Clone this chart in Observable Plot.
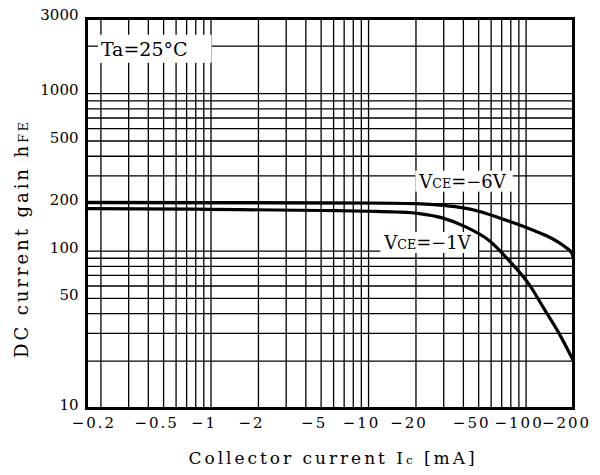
<!DOCTYPE html>
<html>
<head>
<meta charset="utf-8">
<script src="https://cdn.jsdelivr.net/npm/d3@7"></script>
<script src="https://cdn.jsdelivr.net/npm/@observablehq/plot@0.6"></script>
<style>
  html, body { margin: 0; padding: 0; background: #fff; }
  svg { display: block; }
</style>
</head>
<body>
<div id="chart"></div>
<script>
// ---- data ----
const xTicks = [0.2, 0.5, 1, 2, 5, 10, 20, 50, 100, 200];
const yTicks = [10, 50, 100, 200, 500, 1000, 3000];
const xGrid = [0.2, 0.3, 0.4, 0.5, 0.6, 0.7, 0.8, 0.9,
               1, 2, 3, 4, 5, 6, 7, 8, 9,
               10, 20, 30, 40, 50, 60, 70, 80, 90, 100];
const yGrid = [20, 30, 40, 50, 60, 70, 80, 90,
               100, 200, 300, 400, 500, 600, 700, 800, 900,
               1000, 2000];
const xDomain = [0.162, 200];
const yDomain = [10, 3000];

// VCE = -6V
const icVce6  = [0.162, 1, 10, 20, 30, 40, 50, 67, 85, 110, 135, 160, 180, 195, 200];
const hfeVce6 = [204, 203, 202, 200, 195, 188, 179, 163, 150, 136, 125, 114, 105, 97, 90];
// VCE = -1V
const icVce1  = [0.162, 1, 5, 10, 15, 21, 29, 41, 58, 78, 105, 132, 162, 200];
const hfeVce1 = [186, 184, 181, 179, 177, 173, 163, 143, 117, 87, 61, 42, 30, 20];

const annoText = ["Ta=25°C", "VCE=−6V", "VCE=−1V"];
const annoX = [0.2, 21, 12.6];
const annoY = [1900, 275, 112];

const xTitle = "Collector current Ic [mA]";
const yTitle = "DC current gain hFE";

// ---- build tables ----
const curve6 = icVce6.map((x, i) => ({ic: x, hfe: hfeVce6[i]}));
const curve1 = icVce1.map((x, i) => ({ic: x, hfe: hfeVce1[i]}));
const annos = annoText.map((t, i) => ({text: t, x: annoX[i], y: annoY[i]}));

const FONT = "DejaVu Serif";

const svg = Plot.plot({
  width: 600,
  height: 475,
  marginLeft: 86,
  marginRight: 27,
  marginTop: 18,
  marginBottom: 67,
  style: {fontFamily: FONT, fontSize: "15px", color: "#000", background: "#fff"},
  x: {type: "log", domain: xDomain, axis: null},
  y: {type: "log", domain: yDomain, axis: null},
  marks: [
    Plot.ruleX(xGrid, {stroke: "#000", strokeWidth: 1.3}),
    Plot.ruleY(yGrid, {stroke: "#000", strokeWidth: 1.3}),
    Plot.text(annos, {x: "x", y: "y", text: "text", textAnchor: "start",
                      fontSize: 18, fontFamily: FONT, fill: "#000"}),
    Plot.line(curve6, {x: "ic", y: "hfe", stroke: "#000", strokeWidth: 3.2, curve: "monotone-x"}),
    Plot.line(curve1, {x: "ic", y: "hfe", stroke: "#000", strokeWidth: 3.2, curve: "monotone-x"}),
    Plot.frame({stroke: "#000", strokeWidth: 3}),
    // tick labels
    Plot.text(xTicks, {x: d => d, text: d => "−" + d, frameAnchor: "bottom", lineAnchor: "top",
                       dy: 9, dx: -7, fontSize: 15, fontFamily: FONT, fill: "#000"}),
    Plot.text(yTicks, {y: d => d, text: d => String(d), frameAnchor: "left", textAnchor: "end",
                       dx: -8, dy: -3, fontSize: 15, fontFamily: FONT, fill: "#000"}),
    // axis titles
    Plot.text([xTitle], {frameAnchor: "bottom", textAnchor: "middle", dy: 55, dx: 3,
                         fontSize: 17, fontFamily: FONT}),
    Plot.text([yTitle], {frameAnchor: "left", textAnchor: "middle", rotate: -90, dx: -64, dy: 25,
                         fontSize: 18, fontFamily: FONT})
  ]
});

document.getElementById("chart").append(svg);

// ---- text refinements: small subscripts, spacing, label backgrounds ----
const ns = "http://www.w3.org/2000/svg";
function rich(el, parts) {
  el.textContent = "";
  for (const [t, small] of parts) {
    const ts = document.createElementNS(ns, "tspan");
    ts.textContent = t;
    if (small) ts.setAttribute("font-size", "0.7em");
    el.appendChild(ts);
  }
}
function fitWidth(el, target) {
  const n = el.getNumberOfChars();
  const w = el.getComputedTextLength();
  el.style.letterSpacing = ((target - w) / n) + "px";
}
function whiteBox(el, padL, padR, padY) {
  const bb = el.getBBox();
  const r = document.createElementNS(ns, "rect");
  r.setAttribute("x", bb.x - padL);
  r.setAttribute("y", bb.y - padY);
  r.setAttribute("width", bb.width + padL + padR);
  r.setAttribute("height", bb.height + 2 * padY);
  r.setAttribute("fill", "#fff");
  const tf = el.getAttribute("transform");
  if (tf) r.setAttribute("transform", tf);
  el.parentNode.insertBefore(r, el);
}

svg.querySelectorAll("text").forEach(el => {
  const s = el.textContent;
  if (s.startsWith("VCE")) {
    rich(el, [["V"], ["CE", 1], [s.slice(3)]]);
    whiteBox(el, 3, 6, 0);
  } else if (s.startsWith("Ta=")) {
    el.setAttribute("font-size", 19);
    whiteBox(el, 3, 24, 3);
  } else if (s === yTitle) {
    rich(el, [["DC current gain h"], ["FE", 1]]);
    fitWidth(el, 239);
  } else if (s === xTitle) {
    rich(el, [["Collector current I"], ["c", 1], [" [mA]"]]);
    fitWidth(el, 289);
  } else if (s.startsWith("−")) {
    el.style.letterSpacing = "2px";
  }
});
</script>
</body>
</html>
